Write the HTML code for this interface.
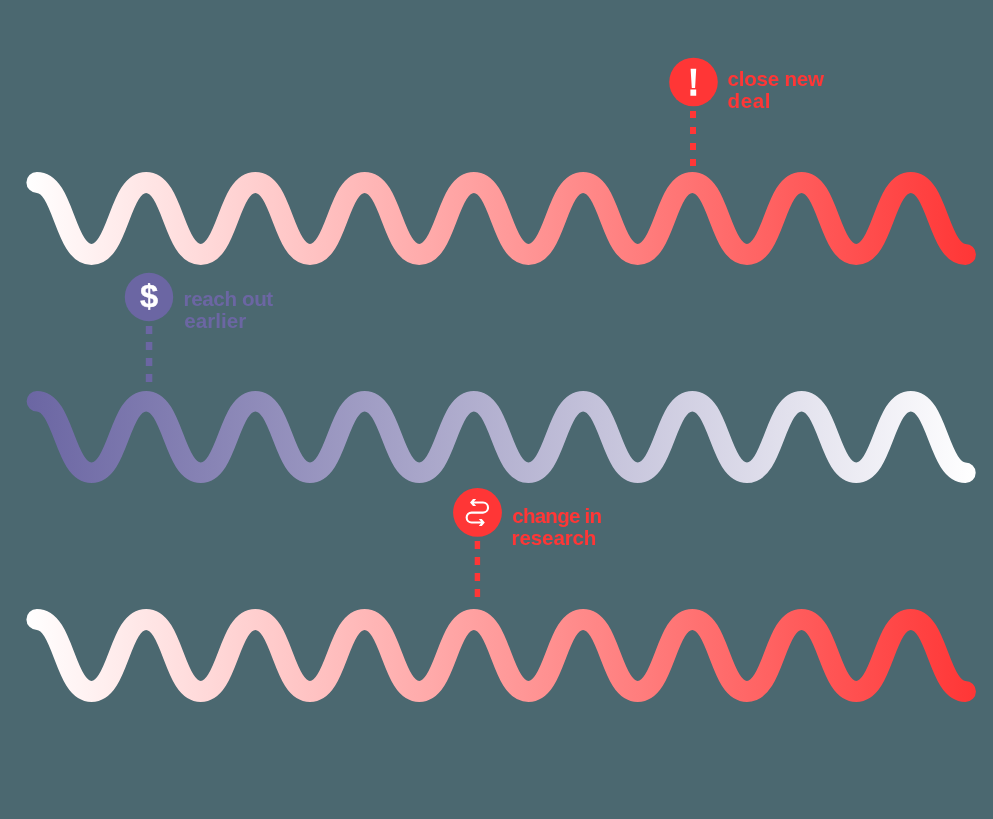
<!DOCTYPE html>
<html><head><meta charset="utf-8"><style>
html,body{margin:0;padding:0;background:#4b6870;width:993px;height:819px;overflow:hidden;}
svg{display:block;font-family:"Liberation Sans",sans-serif;will-change:transform;}
</style></head><body>
<svg width="993" height="819" viewBox="0 0 993 819">
<defs>
<linearGradient id="gr" gradientUnits="userSpaceOnUse" x1="26.4" y1="0" x2="975.9399999999999" y2="0">
<stop offset="0" stop-color="#ffffff"/><stop offset="1" stop-color="#ff3636"/></linearGradient>
<linearGradient id="gp" gradientUnits="userSpaceOnUse" x1="26.4" y1="0" x2="975.9399999999999" y2="0">
<stop offset="0" stop-color="#6b66a3"/><stop offset="1" stop-color="#ffffff"/></linearGradient>
</defs><path d="M36.90,182.45C64.21,182.45 64.21,254.45 91.52,254.45C118.83,254.45 118.83,182.45 146.14,182.45C173.45,182.45 173.45,254.45 200.76,254.45C228.07,254.45 228.07,182.45 255.38,182.45C282.69,182.45 282.69,254.45 310.00,254.45C337.31,254.45 337.31,182.45 364.62,182.45C391.93,182.45 391.93,254.45 419.24,254.45C446.55,254.45 446.55,182.45 473.86,182.45C501.17,182.45 501.17,254.45 528.48,254.45C555.79,254.45 555.79,182.45 583.10,182.45C610.41,182.45 610.41,254.45 637.72,254.45C665.03,254.45 665.03,182.45 692.34,182.45C719.65,182.45 719.65,254.45 746.96,254.45C774.27,254.45 774.27,182.45 801.58,182.45C828.89,182.45 828.89,254.45 856.20,254.45C883.51,254.45 883.51,182.45 910.82,182.45C938.13,182.45 938.13,254.45 965.44,254.45" fill="none" stroke="url(#gr)" stroke-width="21" stroke-linecap="round"/><path d="M36.90,401.15C64.21,401.15 64.21,472.75 91.52,472.75C118.83,472.75 118.83,401.15 146.14,401.15C173.45,401.15 173.45,472.75 200.76,472.75C228.07,472.75 228.07,401.15 255.38,401.15C282.69,401.15 282.69,472.75 310.00,472.75C337.31,472.75 337.31,401.15 364.62,401.15C391.93,401.15 391.93,472.75 419.24,472.75C446.55,472.75 446.55,401.15 473.86,401.15C501.17,401.15 501.17,472.75 528.48,472.75C555.79,472.75 555.79,401.15 583.10,401.15C610.41,401.15 610.41,472.75 637.72,472.75C665.03,472.75 665.03,401.15 692.34,401.15C719.65,401.15 719.65,472.75 746.96,472.75C774.27,472.75 774.27,401.15 801.58,401.15C828.89,401.15 828.89,472.75 856.20,472.75C883.51,472.75 883.51,401.15 910.82,401.15C938.13,401.15 938.13,472.75 965.44,472.75" fill="none" stroke="url(#gp)" stroke-width="20.5" stroke-linecap="round"/><path d="M36.90,619.45C64.21,619.45 64.21,691.45 91.52,691.45C118.83,691.45 118.83,619.45 146.14,619.45C173.45,619.45 173.45,691.45 200.76,691.45C228.07,691.45 228.07,619.45 255.38,619.45C282.69,619.45 282.69,691.45 310.00,691.45C337.31,691.45 337.31,619.45 364.62,619.45C391.93,619.45 391.93,691.45 419.24,691.45C446.55,691.45 446.55,619.45 473.86,619.45C501.17,619.45 501.17,691.45 528.48,691.45C555.79,691.45 555.79,619.45 583.10,619.45C610.41,619.45 610.41,691.45 637.72,691.45C665.03,691.45 665.03,619.45 692.34,619.45C719.65,619.45 719.65,691.45 746.96,691.45C774.27,691.45 774.27,619.45 801.58,619.45C828.89,619.45 828.89,691.45 856.20,691.45C883.51,691.45 883.51,619.45 910.82,619.45C938.13,619.45 938.13,691.45 965.44,691.45" fill="none" stroke="url(#gr)" stroke-width="21" stroke-linecap="round"/><circle cx="693.5" cy="82" r="24.3" fill="#ff3636"/><circle cx="149" cy="297" r="24.2" fill="#6b66a3"/><circle cx="477.5" cy="512.4" r="24.4" fill="#ff3636"/><path d="M690.6,68.8 L696.2,68.8 L695.1,87.9 L691.8,87.9 Z M690.4,89.4 H696.2 V95.8 H690.4 Z" fill="#fff"/><rect x="147.9" y="283.1" width="2.2" height="3" fill="#fff"/><text x="0" y="0" transform="translate(149,307.4) scale(1.04,1)" font-family="Liberation Sans" font-weight="bold" font-size="31.5" fill="#fff" stroke="#fff" stroke-width="0.3" text-anchor="middle">$</text><path d="M473.5,502.5 H483 A5.05,5.05 0 0 1 483,512.6 H471.6 A4.95,4.95 0 0 0 471.6,522.5 H481.5" fill="none" stroke="#fff" stroke-width="2.1"/><path d="M470,502.5 L473,499.1 L476.1,499.1 L474,501.5 L474,503.5 L476.1,505.9 L473,505.9 Z M484.8,522.5 L481.8,519.1 L478.8,519.1 L480.9,521.5 L480.9,523.5 L478.8,525.9 L481.8,525.9 Z" fill="#fff"/><rect x="690.0" y="111.0" width="6" height="7" fill="#ff3636"/><rect x="690.0" y="127.0" width="6" height="7" fill="#ff3636"/><rect x="690.0" y="143.0" width="6" height="7" fill="#ff3636"/><rect x="690.0" y="159.0" width="6" height="7" fill="#ff3636"/><rect x="145.8" y="326.0" width="6.5" height="8" fill="#6b66a3"/><rect x="145.8" y="342.0" width="6.5" height="8" fill="#6b66a3"/><rect x="145.8" y="358.0" width="6.5" height="8" fill="#6b66a3"/><rect x="145.8" y="374.0" width="6.5" height="8" fill="#6b66a3"/><rect x="474.7" y="541.0" width="5.4" height="8" fill="#ff3636"/><rect x="474.7" y="557.0" width="5.4" height="8" fill="#ff3636"/><rect x="474.7" y="573.0" width="5.4" height="8" fill="#ff3636"/><rect x="474.7" y="589.0" width="5.4" height="8" fill="#ff3636"/><text x="727.56" y="86.0" font-family="Liberation Sans" font-weight="bold" font-size="20.6" letter-spacing="-0.254" fill="#ff3636">close new</text><text x="727.53" y="107.9" font-family="Liberation Sans" font-weight="bold" font-size="20.6" letter-spacing="0.555" fill="#ff3636">deal</text><text x="183.52" y="306.0" font-family="Liberation Sans" font-weight="bold" font-size="20.6" letter-spacing="-0.374" fill="#6b66a3">reach out</text><text x="184.16" y="327.9" font-family="Liberation Sans" font-weight="bold" font-size="20.6" letter-spacing="0.051" fill="#6b66a3">earlier</text><text x="512.26" y="523.0" font-family="Liberation Sans" font-weight="bold" font-size="20.6" letter-spacing="-0.79" fill="#ff3636">change in</text><text x="511.62" y="545.0" font-family="Liberation Sans" font-weight="bold" font-size="20.6" letter-spacing="-0.15" fill="#ff3636">research</text></svg>
</body></html>
